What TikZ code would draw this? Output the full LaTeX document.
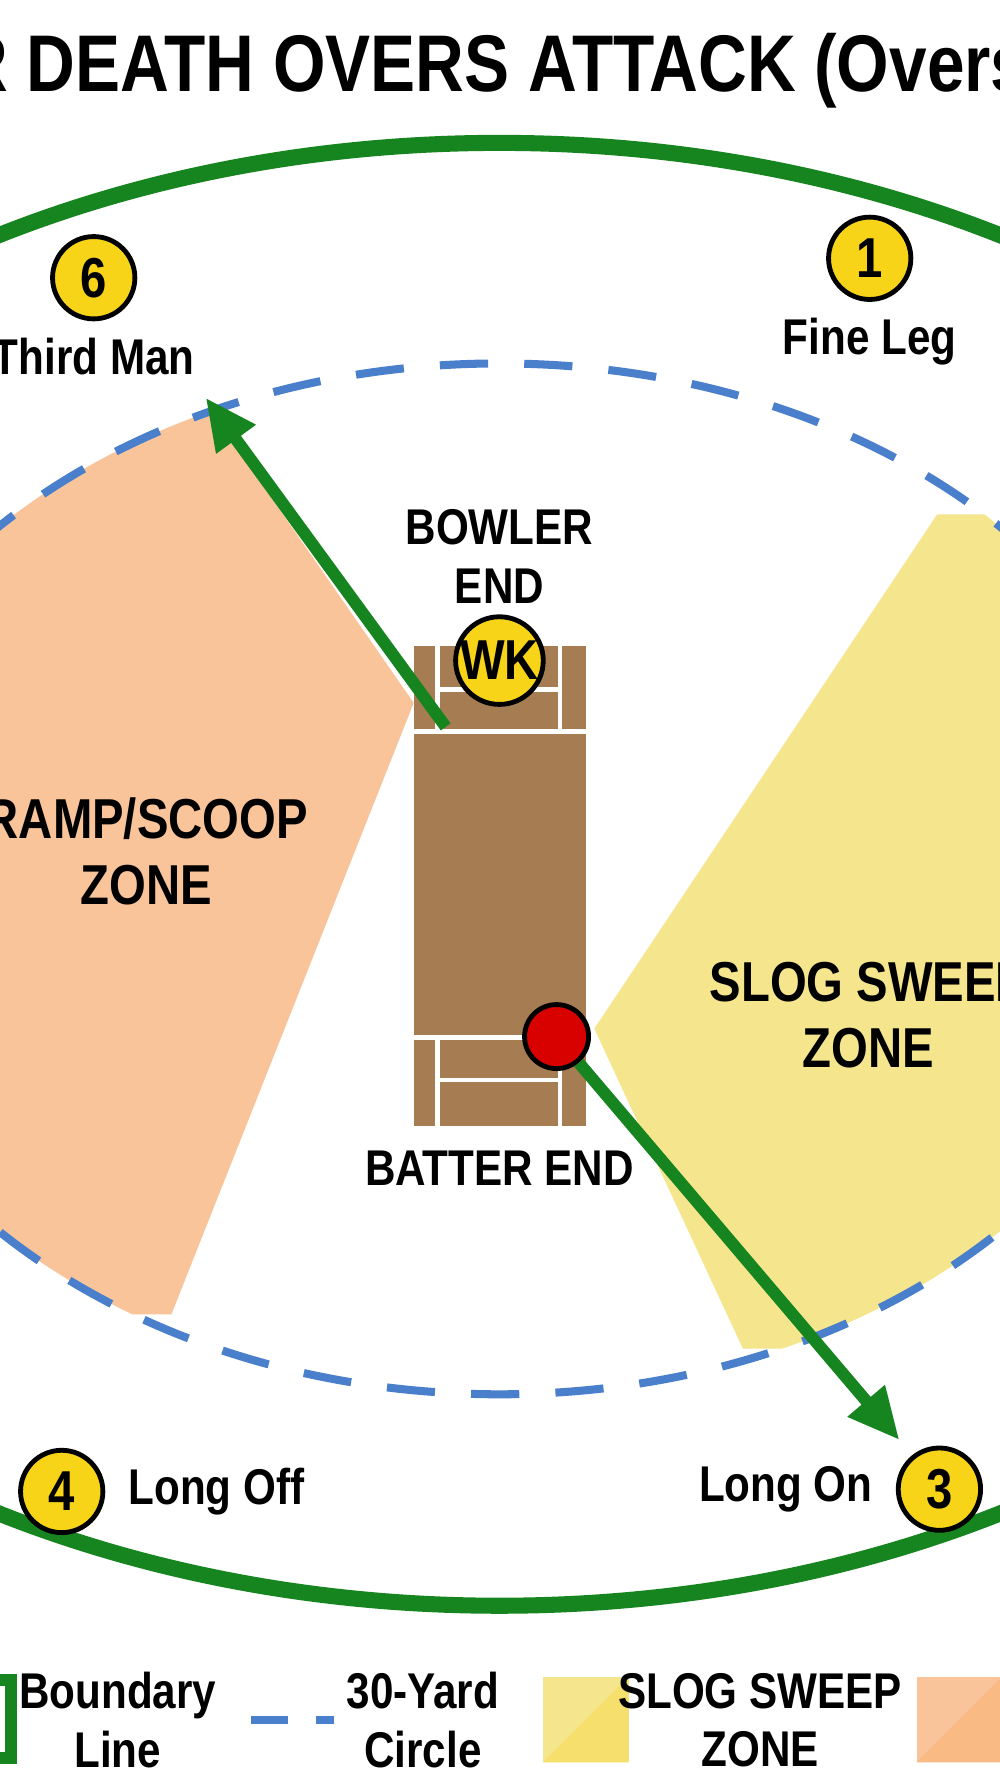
\documentclass[tikz,border=0pt]{standalone}
\usepackage{fontspec}
\setmainfont{Liberation Sans}[FakeStretch=0.84]
\usetikzlibrary{arrows.meta,positioning}
\definecolor{fieldgreen}{HTML}{17851F}
\definecolor{circblue}{HTML}{4A7FCC}
\definecolor{peach}{HTML}{F9C49A}
\definecolor{sweep}{HTML}{F5E68E}
\definecolor{pitch}{HTML}{A67C52}
\definecolor{marker}{HTML}{F7D417}
\tikzset{
  fielder/.style={circle, draw=black, line width=1.2pt, fill=marker, minimum size=0.72cm, inner sep=0pt, font=\bfseries\fontsize{14}{14}\selectfont},
  lbl/.style={font=\bfseries\fontsize{12.5}{14.5}\selectfont, align=center},
  big/.style={font=\bfseries\fontsize{14}{16.5}\selectfont, align=center},
  shot/.style={fieldgreen, line width=3pt, -{Triangle[length=0.45cm,width=0.4cm]}},
  crease/.style={white, line width=1.2pt}
}
\begin{document}
\begin{tikzpicture}[x=0.01cm,y=-0.01cm]
    \useasboundingbox (0,0) rectangle (875,1568);
    \clip (0,0) rectangle (875,1568);
    \fill[white] (0,0) rectangle (875,1568);

        %-----Zones-----
        \begin{scope}
            \clip (437,769) ellipse [x radius=600, y radius=451];
            % Ramp / Scoop
            \fill[peach] (185,360) -- (362,615) -- (150,1150) -- (-200,1150) -- (-200,360) -- cycle;
            % Slog sweep
            \fill[sweep] (820,450) -- (520,900) -- (650,1180) -- (1100,1180) -- (1100,450) -- cycle;
        \end{scope}

        %-----Field-----
        \draw[fieldgreen, line width=4pt] (437,765) ellipse [x radius=900, y radius=640];
        \draw[circblue, line width=2pt, dash pattern=on 12pt off 9pt] (437,769) ellipse [x radius=600, y radius=451];

        %-----Pitch-----
        \fill[pitch] (362,565) rectangle (513,985);
        \draw[crease] (362,640) -- (513,640);
        \draw[crease] (383,565) -- (383,640) (490,565) -- (490,640);
        \draw[crease] (383,603) -- (490,603);
        \draw[crease] (362,908) -- (513,908);
        \draw[crease] (383,908) -- (383,985) (490,908) -- (490,985);
        \draw[crease] (383,945) -- (490,945);

        \node[fielder, minimum size=0.66cm] (wk) at (437,578) {WK};
        \node[circle, draw=black, line width=1.2pt, fill=red!85!black, minimum size=0.56cm] (ball) at (487,907) {};

        %-----Labels-----
        \node[anchor=west, font=\bfseries\fontsize{20}{20}\selectfont] (title) at (-48,62) {R DEATH OVERS ATTACK (Overs 16--20)};
        \node[lbl] (bowler) at (437,487) {BOWLER\\END};
        \node[lbl] (batter) at (437,1022) {BATTER END};
        \node[big] (ramp) at (128,745) {RAMP/SCOOP\\ZONE};
        \node[big] (slog) at (760,888) {SLOG SWEEP\\ZONE};

        %-----Fielders-----
        \node[fielder] (f6) at (82,243) {6};
        \node[lbl, below=0.02cm of f6] (thirdman) {Third Man};
        \node[fielder] (f1) at (761,226) {1};
        \node[lbl, below=0.02cm of f1] (fineleg) {Fine Leg};
        \node[fielder] (f4) at (54,1305) {4};
        \node[lbl, right=0.08cm of f4] (longoff) {Long Off};
        \node[fielder] (f3) at (822,1303) {3};
        \node[lbl, left=0.08cm of f3] (longon) {Long On};

        %-----Shots-----
        \coordinate (ramptip) at (180,348);
        \coordinate (slogtip) at (787,1260);
        \coordinate (rampstart) at (390,636);
        \draw[shot] (rampstart) -- (ramptip);
        \draw[shot] (ball) -- (slogtip);

        %-----Legend-----
        \draw[fieldgreen, line width=3pt] (-40,1470) rectangle (10,1538);
        \node[lbl] (leg1) at (103,1505) {Boundary\\Line};
        \coordinate (dashA) at (220,1505);
        \coordinate (dashB) at (292,1505);
        \draw[circblue, line width=2pt, dash pattern=on 9pt off 7pt] (dashA) -- (dashB);
        \node[lbl] (leg2) at (370,1505) {30-Yard\\Circle};
        \fill[sweep] (475,1467) rectangle (550,1542);
        \fill[sweep!85!yellow!90!orange] (550,1467) -- (550,1542) -- (475,1542) -- cycle;
        \node[lbl] (leg3) at (665,1505) {SLOG SWEEP\\ZONE};
        \fill[peach] (802,1467) rectangle (880,1542);
        \fill[peach!85!orange] (877,1467) -- (877,1542) -- (802,1542) -- cycle;
\end{tikzpicture}
\end{document}
